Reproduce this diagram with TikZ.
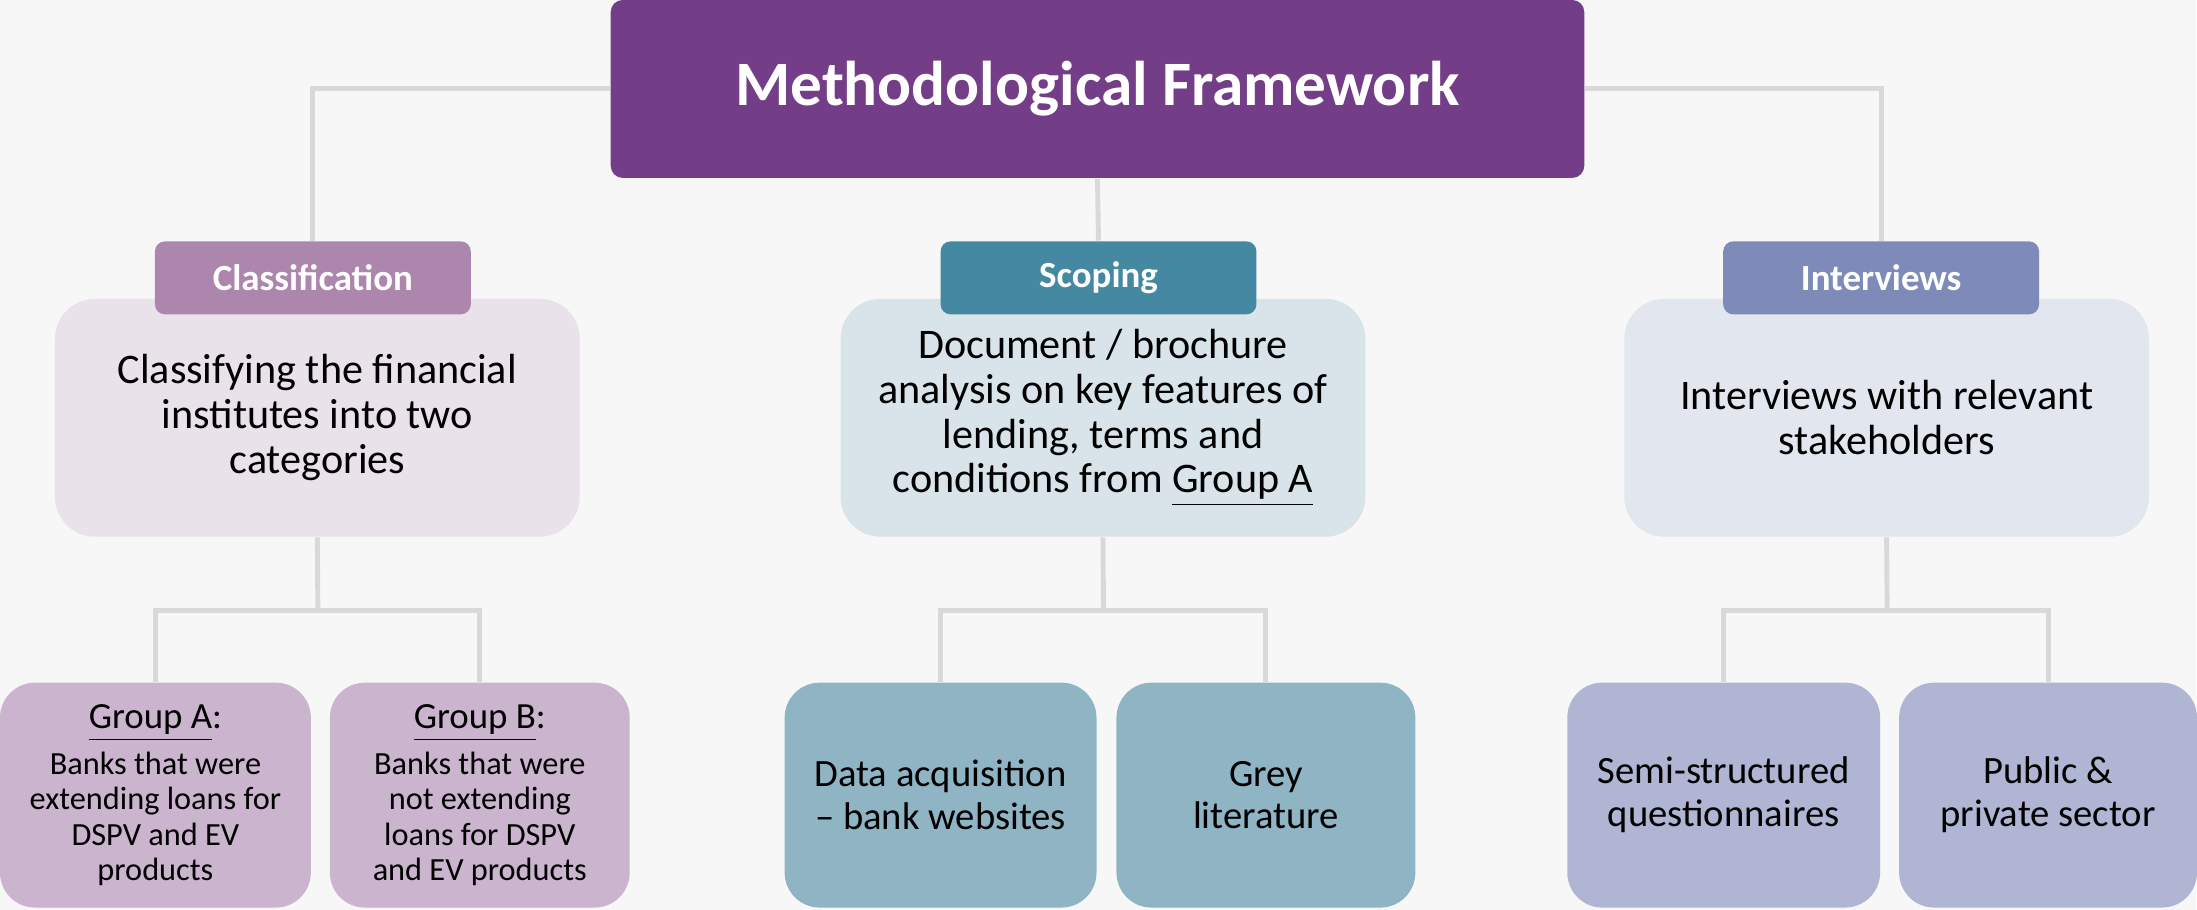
\documentclass[tikz,border=0pt]{standalone}
\usepackage{fontspec}
\setmainfont{Carlito}

\definecolor{bgc}{RGB}{247, 247, 247}
\definecolor{mfp}{RGB}{115, 62, 135}
\definecolor{lnc}{RGB}{217, 217, 217}
\definecolor{clt}{RGB}{172, 134, 172}
\definecolor{clb}{RGB}{233, 226, 235}
\definecolor{clg}{RGB}{203, 180, 206}
\definecolor{sct}{RGB}{69, 136, 161}
\definecolor{scb}{RGB}{216, 228, 233}
\definecolor{scg}{RGB}{143, 180, 196}
\definecolor{itt}{RGB}{126, 139, 185}
\definecolor{itb}{RGB}{226, 230, 238}
\definecolor{itg}{RGB}{175, 181, 210}

\begin{document}
\begin{tikzpicture}[
  tab/.style={rounded corners=0.1cm, minimum width=3.16cm, minimum height=0.73cm, text=white, font=\fontsize{10.5}{12}\selectfont\bfseries},
  box/.style={rounded corners=0.4cm, minimum width=5.25cm, minimum height=2.38cm, align=center, font=\fontsize{12}{12.8}\selectfont},
  leaf/.style={rounded corners=0.35cm, minimum height=2.25cm, align=center, font=\fontsize{11}{12.2}\selectfont},
  grp/.style={leaf, font=\fontsize{9.2}{10}\selectfont},
  link/.style={lnc, line width=1.4pt}
]
  \fill[bgc] (0, 0) rectangle (21.97, 9.10);

  \coordinate (T) at (10.98, 8.21);
  \coordinate (C1) at (3.175, 4.92);
  \coordinate (C2) at (11.035, 4.92);
  \coordinate (C3) at (18.875, 4.92);
  \coordinate (clfork) at (3.18, 2.99);
  \coordinate (scfork) at (11.04, 2.99);
  \coordinate (itfork) at (18.88, 2.99);

  \node[fill=mfp, rounded corners=0.12cm, minimum width=9.74cm, minimum height=1.78cm, text=white, font=\fontsize{18}{20}\selectfont\bfseries] (title) at (T) {Methodological Framework};

  % second row
  \node[box, fill=clb] (clbox) at (C1) {Classifying the financial\\institutes into two\\categories};
  \node[box, fill=scb] (scbox) at (C2) {Document / brochure\\analysis on key features of\\lending, terms and\\conditions from \underline{Group A}};
  \node[box, fill=itb] (itbox) at (C3) {Interviews with relevant\\stakeholders};
  \node[tab, fill=clt] (cltab) at (3.13, 6.32) {Classification};
  \node[tab, fill=sct] (sctab) at (10.99, 6.32) {Scoping};
  \node[tab, fill=itt] (ittab) at (18.82, 6.32) {Interviews};

  % bottom row
  \node[grp, fill=clg, minimum width=3.11cm] (grpa) at (1.555, 1.145) {{\fontsize{10.5}{11}\selectfont\underline{Group A}:}\\[2pt]Banks that were\\extending loans for\\DSPV and EV\\products};
  \node[grp, fill=clg, minimum width=3.00cm] (grpb) at (4.80, 1.145) {{\fontsize{10.5}{11}\selectfont\underline{Group B}:}\\[2pt]Banks that were\\not extending\\loans for DSPV\\and EV products};
  \node[leaf, fill=scg, minimum width=3.12cm] (data) at (9.41, 1.145) {Data acquisition\\– bank websites};
  \node[leaf, fill=scg, minimum width=2.99cm] (grey) at (12.665, 1.145) {Grey\\literature};
  \node[leaf, fill=itg, minimum width=3.13cm] (semi) at (17.245, 1.145) {Semi-structured\\questionnaires};
  \node[leaf, fill=itg, minimum width=2.98cm] (pub) at (20.49, 1.145) {Public \&\\private sector};

  \draw[link] (title.west) -| (cltab.north);
  \draw[link] (title.south) -- (sctab.north);
  \draw[link] (title.east) -| (ittab.north);

  \draw[link] (clbox.south) -- (clfork);
  \draw[link] (grpa.north) |- (clfork) -| (grpb.north);
  \draw[link] (scbox.south) -- (scfork);
  \draw[link] (data.north) |- (scfork) -| (grey.north);
  \draw[link] (itbox.south) -- (itfork);
  \draw[link] (semi.north) |- (itfork) -| (pub.north);
\end{tikzpicture}
\end{document}
